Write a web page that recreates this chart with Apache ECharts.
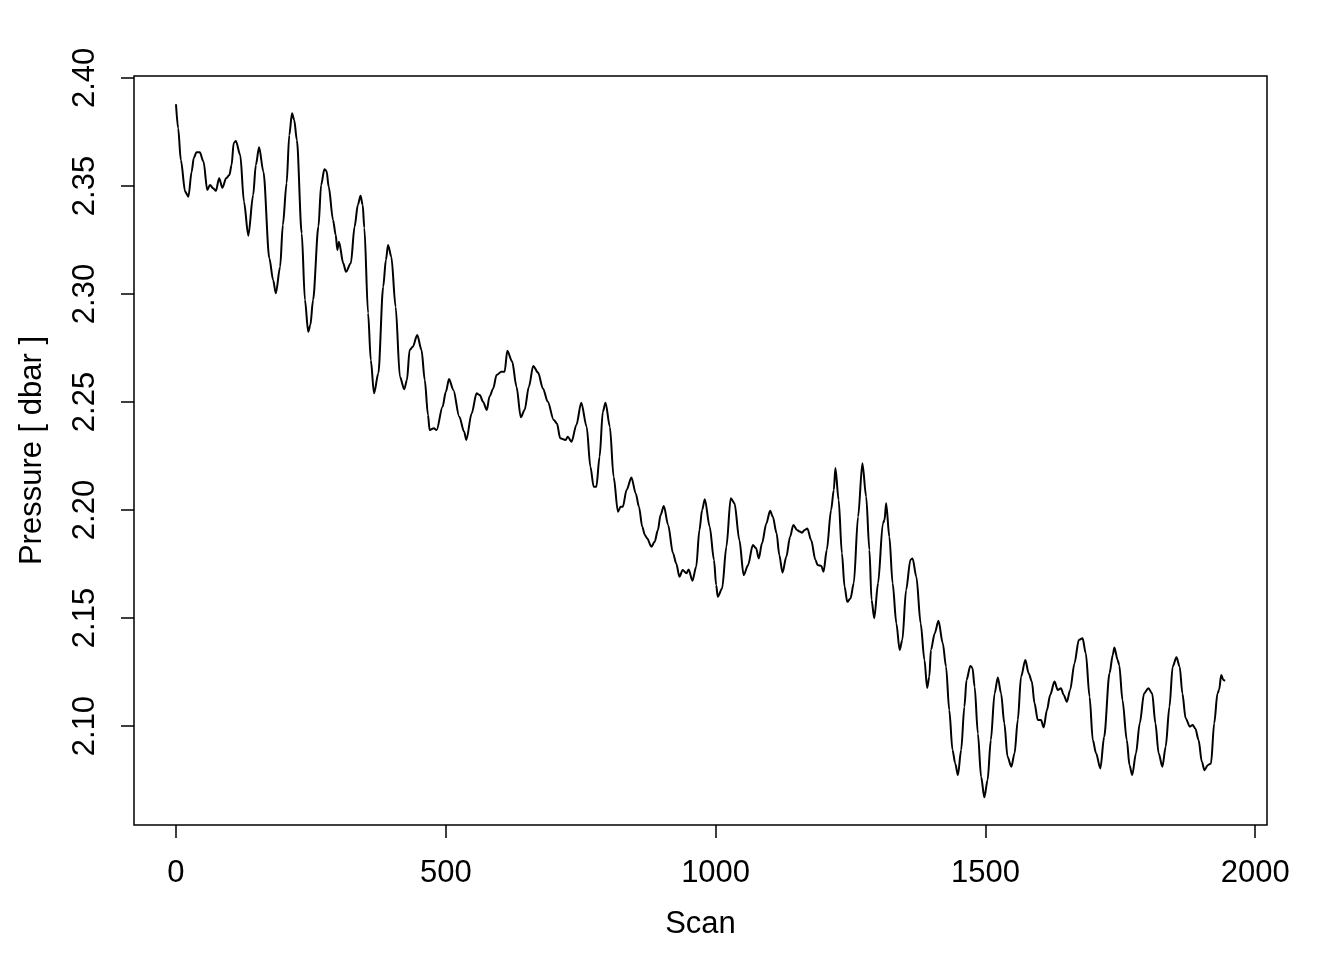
<!DOCTYPE html>
<html>
<head>
<meta charset="utf-8">
<title>Pressure vs Scan</title>
<script src="https://cdn.jsdelivr.net/npm/echarts@6/dist/echarts.min.js"></script>
<style>
  html, body { margin: 0; padding: 0; background: #fff; }
  #chart { width: 1344px; height: 960px; }
</style>
</head>
<body>
<div id="chart"></div>
<script>
// scan index and pressure
const scans = [
  0, 4, 9, 17, 23, 29, 33, 38, 44, 51, 58, 63, 69, 74, 80, 86, 93, 99, 103, 107,
  111, 119, 126, 134, 143, 148, 154, 162, 173, 180, 185, 193, 198, 205, 210, 215, 219, 224, 233, 239,
  245, 249, 254, 264, 269, 275, 279, 283, 291, 296, 299, 302, 310, 315, 324, 331, 337, 342, 346, 349,
  356, 361, 367, 375, 384, 389, 393, 399, 407, 415, 423, 428, 433, 439, 447, 455, 461, 467, 470, 478,
  483, 494, 500, 506, 514, 525, 534, 538, 548, 557, 563, 569, 576, 581, 588, 594, 603, 609, 614, 623,
  631, 639, 646, 654, 662, 671, 680, 689, 700, 706, 712, 722, 726, 733, 742, 751, 761, 768, 774, 779,
  785, 791, 796, 804, 811, 819, 824, 828, 835, 844, 852, 858, 864, 869, 873, 881, 887, 893, 898, 904,
  912, 921, 927, 933, 939, 946, 950, 957, 964, 970, 975, 980, 989, 997, 1001, 1004, 1012, 1020, 1028, 1035,
  1044, 1052, 1060, 1069, 1075, 1080, 1086, 1094, 1101, 1106, 1113, 1118, 1124, 1131, 1138, 1144, 1151, 1156, 1160, 1165,
  1170, 1177, 1185, 1189, 1196, 1200, 1206, 1214, 1219, 1222, 1228, 1234, 1239, 1244, 1250, 1256, 1264, 1272, 1279, 1285,
  1289, 1294, 1301, 1310, 1313, 1316, 1322, 1328, 1335, 1341, 1346, 1353, 1361, 1365, 1372, 1380, 1387, 1392, 1396, 1399,
  1406, 1413, 1421, 1427, 1433, 1439, 1444, 1449, 1455, 1461, 1465, 1472, 1476, 1480, 1486, 1492, 1498, 1504, 1510, 1517,
  1523, 1529, 1535, 1541, 1548, 1554, 1560, 1566, 1574, 1580, 1586, 1591, 1597, 1603, 1608, 1614, 1620, 1628, 1634, 1640,
  1645, 1651, 1657, 1665, 1673, 1680, 1686, 1693, 1699, 1705, 1713, 1720, 1730, 1736, 1739, 1745, 1748, 1754, 1762, 1767,
  1772, 1779, 1786, 1794, 1802, 1809, 1815, 1821, 1828, 1834, 1841, 1847, 1854, 1860, 1865, 1871, 1879, 1884, 1889, 1895,
  1901, 1906, 1912, 1918, 1924, 1930, 1933, 1937, 1941, 1944
]
const pressure = [
  2.3878, 2.3767, 2.3620, 2.3474, 2.3450, 2.3566, 2.3630, 2.3656, 2.3656, 2.3613, 2.3481, 2.3505, 2.3489, 2.3478, 2.3536, 2.3492, 2.3536, 2.3551, 2.3597, 2.3699,
  2.3708, 2.3644, 2.3427, 2.3270, 2.3458, 2.3597, 2.3679, 2.3566, 2.3165, 2.3065, 2.3003, 2.3126, 2.3319, 2.3513, 2.3736, 2.3837, 2.3806, 2.3713, 2.3281, 2.2972,
  2.2825, 2.2856, 2.2972, 2.3312, 2.3505, 2.3577, 2.3569, 2.3497, 2.3343, 2.3273, 2.3204, 2.3242, 2.3142, 2.3103, 2.3142, 2.3312, 2.3412, 2.3455, 2.3412, 2.3306,
  2.2911, 2.2694, 2.2540, 2.2633, 2.3034, 2.3157, 2.3227, 2.3173, 2.2941, 2.2617, 2.2559, 2.2602, 2.2741, 2.2756, 2.2810, 2.2741, 2.2602, 2.2440, 2.2370, 2.2378,
  2.2370, 2.2478, 2.2546, 2.2606, 2.2556, 2.2432, 2.2362, 2.2324, 2.2448, 2.2540, 2.2532, 2.2501, 2.2463, 2.2525, 2.2563, 2.2625, 2.2640, 2.2640, 2.2737, 2.2687,
  2.2571, 2.2429, 2.2463, 2.2571, 2.2667, 2.2636, 2.2563, 2.2501, 2.2417, 2.2401, 2.2332, 2.2324, 2.2339, 2.2316, 2.2394, 2.2497, 2.2386, 2.2200, 2.2108, 2.2108,
  2.2247, 2.2455, 2.2497, 2.2386, 2.2154, 2.1992, 2.2015, 2.2015, 2.2093, 2.2151, 2.2077, 2.2015, 2.1923, 2.1884, 2.1869, 2.1830, 2.1853, 2.1907, 2.1977, 2.2019,
  2.1931, 2.1800, 2.1753, 2.1691, 2.1722, 2.1707, 2.1725, 2.1673, 2.1737, 2.1907, 2.2000, 2.2050, 2.1923, 2.1769, 2.1653, 2.1599, 2.1637, 2.1830, 2.2054, 2.2031,
  2.1861, 2.1699, 2.1744, 2.1838, 2.1823, 2.1776, 2.1846, 2.1938, 2.1997, 2.1969, 2.1892, 2.1792, 2.1710, 2.1784, 2.1876, 2.1931, 2.1907, 2.1900, 2.1895, 2.1907,
  2.1915, 2.1861, 2.1769, 2.1745, 2.1741, 2.1714, 2.1815, 2.2000, 2.2093, 2.2194, 2.2046, 2.1800, 2.1645, 2.1575, 2.1591, 2.1661, 2.1969, 2.2216, 2.2062, 2.1815,
  2.1583, 2.1499, 2.1661, 2.1938, 2.1954, 2.2031, 2.1876, 2.1661, 2.1475, 2.1352, 2.1398, 2.1630, 2.1769, 2.1776, 2.1691, 2.1475, 2.1306, 2.1176, 2.1228, 2.1352,
  2.1429, 2.1487, 2.1383, 2.1275, 2.1074, 2.0889, 2.0827, 2.0773, 2.0889, 2.1089, 2.1213, 2.1278, 2.1269, 2.1182, 2.0966, 2.0765, 2.0670, 2.0750, 2.0935, 2.1151,
  2.1225, 2.1151, 2.1013, 2.0858, 2.0812, 2.0874, 2.1028, 2.1228, 2.1306, 2.1245, 2.1206, 2.1105, 2.1028, 2.1028, 2.0994, 2.1074, 2.1144, 2.1206, 2.1167, 2.1175,
  2.1144, 2.1112, 2.1167, 2.1290, 2.1398, 2.1406, 2.1337, 2.1136, 2.0935, 2.0874, 2.0804, 2.0950, 2.1245, 2.1329, 2.1364, 2.1306, 2.1282, 2.1120, 2.0935, 2.0819,
  2.0773, 2.0874, 2.1013, 2.1151, 2.1175, 2.1151, 2.1013, 2.0874, 2.0812, 2.0904, 2.1089, 2.1275, 2.1318, 2.1275, 2.1151, 2.1036, 2.0997, 2.1005, 2.0989, 2.0935,
  2.0835, 2.0796, 2.0819, 2.0827, 2.1013, 2.1151, 2.1167, 2.1236, 2.1213, 2.1209
]
const xTicks = [0, 500, 1000, 1500, 2000]
const yTicks = [2.10, 2.15, 2.20, 2.25, 2.30, 2.35, 2.40]

const chart = echarts.init(document.getElementById('chart'), null, { renderer: 'canvas' })
const fontFamily = '"Liberation Sans", Arial, Helvetica, sans-serif'

chart.setOption({
  animation: false,
  backgroundColor: '#ffffff',
  grid: {
    left: 134,
    right: 77,
    top: 76,
    bottom: 135,
    show: true,
    borderColor: '#000',
    borderWidth: 1.5,
    backgroundColor: 'transparent'
  },
  xAxis: {
    type: 'value',
    min: -77.8,
    max: 2021.8,
    name: 'Scan',
    nameLocation: 'middle',
    nameGap: 84,
    nameTextStyle: { color: '#000', fontSize: 31, fontFamily: fontFamily },
    axisLine: { show: false, onZero: false },
    splitLine: { show: false },
    axisTick: {
      show: true,
      length: 13,
      customValues: xTicks,
      lineStyle: { color: '#000', width: 1.5 }
    },
    axisLabel: {
      customValues: xTicks,
      margin: 33,
      color: '#000',
      fontSize: 31,
      fontFamily: fontFamily,
      formatter: function(v) {
        return String(v)
      }
    }
  },
  yAxis: {
    type: 'value',
    min: 2.0542,
    max: 2.4009,
    name: 'Pressure [ dbar ]',
    nameLocation: 'middle',
    nameGap: 86,
    nameTextStyle: { color: '#000', fontSize: 31, fontFamily: fontFamily },
    axisLine: { show: false, onZero: false },
    splitLine: { show: false },
    axisTick: {
      show: true,
      length: 13,
      customValues: yTicks,
      lineStyle: { color: '#000', width: 1.5 }
    },
    axisLabel: {
      customValues: yTicks,
      rotate: 90,
      margin: 33,
      color: '#000',
      fontSize: 31,
      fontFamily: fontFamily,
      formatter: function(v) {
        return v.toFixed(2)
      }
    }
  },
  series: [{
    type: 'line',
    data: scans.map((s, i) => [s, pressure[i]]),
    showSymbol: false,
    smooth: 0.3,
    smoothMonotone: 'x',
    lineStyle: { color: '#000', width: 2 }
  }]
})
</script>
</body>
</html>
